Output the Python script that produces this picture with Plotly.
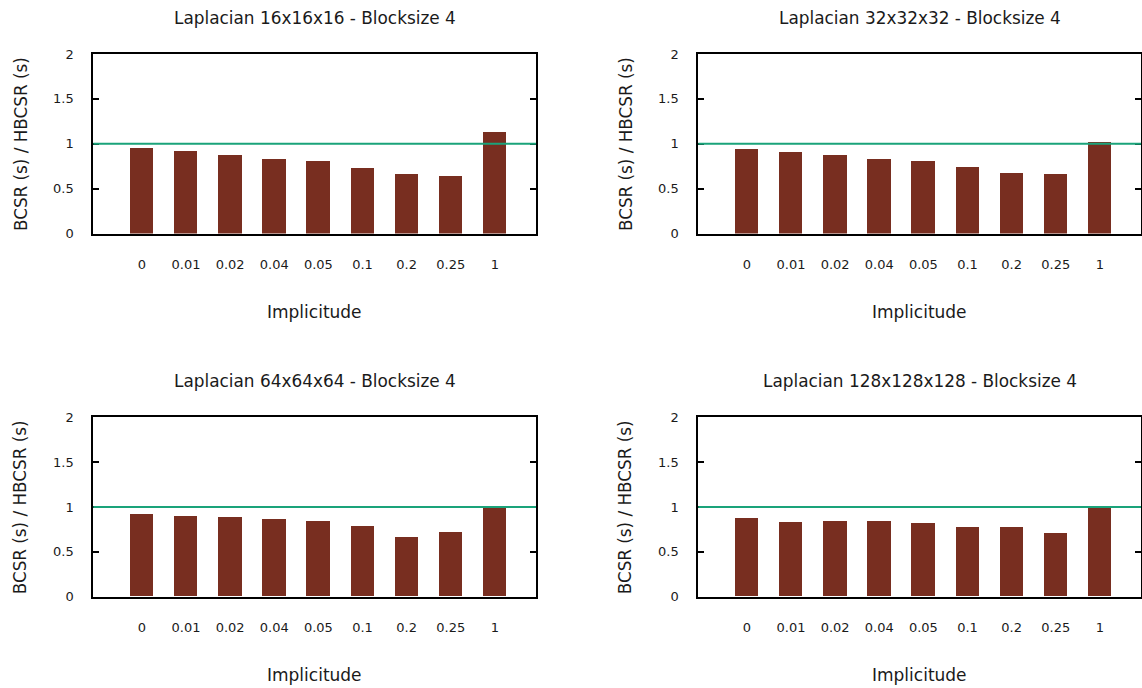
import plotly.graph_objects as go

categories = ["0", "0.01", "0.02", "0.04", "0.05", "0.1", "0.2", "0.25", "1"]
titles = [
    "Laplacian 16x16x16 - Blocksize 4",
    "Laplacian 32x32x32 - Blocksize 4",
    "Laplacian 64x64x64 - Blocksize 4",
    "Laplacian 128x128x128 - Blocksize 4",
]
lap16 = [0.952, 0.918, 0.874, 0.829, 0.807, 0.729, 0.662, 0.639, 1.130]
lap32 = [0.941, 0.907, 0.874, 0.829, 0.807, 0.740, 0.673, 0.662, 1.019]
lap64 = [0.922, 0.900, 0.888, 0.866, 0.844, 0.788, 0.665, 0.721, 1.005]
lap128 = [0.877, 0.833, 0.844, 0.844, 0.822, 0.777, 0.777, 0.710, 0.989]
series = [lap16, lap32, lap64, lap128]
reference = 1.0
yticks = [0, 0.5, 1, 1.5, 2]
yticklabels = ["0", "0.5", "1", "1.5", "2"]
x_title = "Implicitude"
y_title = "BCSR (s) / HBCSR (s)"

W, H = 1142, 688
BAR = "#782e20"
LINE = "#1aa37a"
FONT = "DejaVu Sans"

# pixel boxes of the four plot areas (left, right, top, bottom)
boxes = [
    (93.3, 536.0, 54.0, 233.5),
    (698.3, 1141.0, 54.0, 233.5),
    (93.3, 536.0, 417.3, 596.7),
    (698.3, 1141.0, 417.3, 596.7),
]

fig = go.Figure()
xpos = list(range(len(categories)))
annotations = []
shapes = []
for i, (vals, title, box) in enumerate(zip(series, titles, boxes)):
    n = "" if i == 0 else str(i + 1)
    l, r, t, b = box
    xa = "x" + n
    ya = "y" + n
    fig.add_trace(go.Bar(x=xpos, y=vals, marker=dict(color=BAR, line=dict(width=0)),
                         width=0.53, xaxis=xa, yaxis=ya, showlegend=False))
    fig.update_layout(**{
        "xaxis" + n: dict(domain=[l / W, r / W], anchor=ya, range=[-1.1, 8.93],
                          tickvals=xpos, ticktext=categories, ticks="",
                          showgrid=False, zeroline=False, showline=True, mirror=True,
                          linecolor="black", linewidth=2, automargin=False,
                          tickfont=dict(family=FONT, size=13, color="#1a1a1a"),
                          ticklabelstandoff=18),
        "yaxis" + n: dict(domain=[1 - b / H, 1 - t / H], anchor=xa, range=[0, 2],
                          tickvals=yticks, ticktext=yticklabels, ticks="inside",
                          ticklen=6, tickwidth=1.5, tickcolor="black",
                          showgrid=False, zeroline=False, showline=True, mirror="ticks",
                          linecolor="black", linewidth=2, automargin=False,
                          tickfont=dict(family=FONT, size=13, color="#1a1a1a"),
                          ticklabelstandoff=15),
    })
    shapes.append(dict(type="line", xref=xa + " domain", yref=ya, x0=0, x1=1,
                       y0=reference, y1=reference, line=dict(color=LINE, width=2),
                       layer="above"))
    cx = (l + r) / 2 / W
    annotations.append(dict(text=title, x=cx, y=1 - 18 / H - (t - 54) / H,
                            xref="paper", yref="paper", showarrow=False,
                            xanchor="center", yanchor="middle",
                            font=dict(family=FONT, size=16.9, color="#1a1a1a")))
    annotations.append(dict(text=x_title, x=cx, y=1 - (b + 78.5) / H,
                            xref="paper", yref="paper", showarrow=False,
                            xanchor="center", yanchor="middle",
                            font=dict(family=FONT, size=17, color="#1a1a1a")))
    annotations.append(dict(text=y_title, x=(l - 73) / W, y=1 - (t + b) / 2 / H,
                            xref="paper", yref="paper", showarrow=False, textangle=-90,
                            xanchor="center", yanchor="middle",
                            font=dict(family=FONT, size=16.8, color="#1a1a1a")))

fig.update_layout(width=W, height=H, margin=dict(l=0, r=0, t=0, b=0),
                  paper_bgcolor="white", plot_bgcolor="white",
                  annotations=annotations, shapes=shapes, bargap=0)
fig.write_html("out.html", config={"displayModeBar": False},
               post_script="document.body.style.margin='0';document.body.style.overflow='hidden';")
